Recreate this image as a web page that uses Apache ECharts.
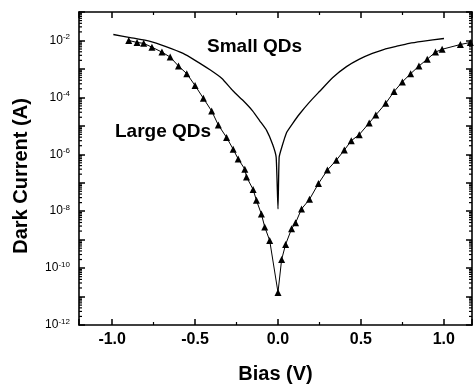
<!DOCTYPE html>
<html>
<head>
<meta charset="utf-8">
<script src="https://cdn.jsdelivr.net/npm/echarts@6/dist/echarts.min.js"></script>
<style>
  html, body { margin: 0; padding: 0; background: #fff; }
  #chart { width: 475px; height: 389px; }
</style>
</head>
<body>
<div id="chart"></div>
<script>
// bias (V) and dark current (A)
const biasSmall = [-0.993, -0.891, -0.771, -0.680, -0.572, -0.500, -0.410, -0.338, -0.272, -0.212, -0.152, -0.110,
  -0.068, -0.032, -0.011, 0,
  0.007, 0.022, 0.052, 0.088, 0.130, 0.190, 0.250, 0.329, 0.413, 0.491, 0.569, 0.641, 0.713, 0.791, 0.869, 1.001];
const currentSmall = [1.62e-2, 1.26e-2, 9.3e-3, 6.2e-3, 3.5e-3, 2.0e-3, 9.3e-4, 4.6e-4, 1.7e-4, 7.9e-5, 3.3e-5, 1.5e-5,
  6.8e-6, 2.2e-6, 7.9e-7, 1.2e-8,
  7.9e-7, 1.7e-6, 5.8e-6, 1.2e-5, 2.6e-5, 6.8e-5, 1.6e-4, 4.9e-4, 1.2e-3, 2.2e-3, 3.5e-3, 4.9e-3, 6.2e-3, 7.9e-3, 9.3e-3, 1.17e-2];

const biasLarge = [-0.90, -0.85, -0.81, -0.76, -0.70, -0.65, -0.60, -0.55, -0.50, -0.45, -0.40, -0.36,
  -0.31, -0.27, -0.24, -0.20, -0.19, -0.15, -0.13, -0.10, -0.08, -0.05, 0,
  0.022, 0.046, 0.082, 0.106, 0.142, 0.19, 0.244, 0.298, 0.352, 0.40, 0.442, 0.49, 0.55, 0.59,
  0.65, 0.70, 0.75, 0.80, 0.85, 0.90, 0.95, 0.99, 1.10, 1.16];
const currentLarge = [1.0e-2, 8.5e-3, 7.9e-3, 5.8e-3, 3.9e-3, 2.6e-3, 1.26e-3, 6.8e-4, 2.6e-4, 9.3e-5, 3.3e-5, 1.07e-5,
  3.9e-6, 1.5e-6, 6.8e-7, 3.0e-7, 1.6e-7, 5.8e-8, 2.4e-8, 7.9e-9, 2.8e-9, 9.3e-10, 1.4e-11,
  2.0e-10, 6.8e-10, 2.4e-9, 3.9e-9, 1.2e-8, 2.6e-8, 9.3e-8, 2.8e-7, 6.2e-7, 1.4e-6, 3.0e-6, 4.9e-6, 1.26e-5, 2.4e-5,
  6.2e-5, 1.6e-4, 3.5e-4, 6.8e-4, 1.26e-3, 2.2e-3, 3.9e-3, 4.9e-3, 7.2e-3, 8.5e-3];

const seriesNames = ["Small QDs", "Large QDs"];
const X_MIN = -1.2, X_MAX = 1.17;
const Y_MIN = 1e-12, Y_MAX = 1e-1;

const FONT = "'Liberation Sans', Arial, sans-serif";

// log minor ticks (2..9 x 10^n)
const minorY = [];
for (let d = -12; d <= -2; d++) {
  for (let k = 2; k <= 9; k++) minorY.push(k * Math.pow(10, d));
}

const chart = echarts.init(document.getElementById("chart"));

const xBase = {
  type: "value",
  min: X_MIN,
  max: X_MAX,
  splitNumber: 5,
  splitLine: { show: false },
  axisLine: { onZero: false, lineStyle: { color: "#000", width: 1.6 } },
  axisTick: { inside: true, length: 6, lineStyle: { color: "#000", width: 1.5 } },
  minorTick: { show: true, splitNumber: 2, length: 3, lineStyle: { color: "#000", width: 1.2 } },
};

const yBase = {
  type: "log",
  logBase: 10,
  min: Y_MIN,
  max: Y_MAX,
  interval: 1,
  splitLine: { show: false },
  axisLine: { onZero: false, lineStyle: { color: "#000", width: 1.6 } },
  axisTick: { inside: true, length: 6, lineStyle: { color: "#000", width: 1.5 } },
};

const option = {
  backgroundColor: "#fff",
  animation: false,
  grid: { left: 79, right: 2, top: 12, bottom: 58 },
  xAxis: [
    {
      ...xBase,
      position: "bottom",
      name: "Bias (V)",
      nameLocation: "middle",
      nameGap: 39,
      nameTextStyle: { fontFamily: FONT, fontWeight: "bold", fontSize: 20, color: "#000" },
      axisLabel: {
        margin: 7,
        fontFamily: FONT,
        fontWeight: "bold",
        fontSize: 16,
        color: "#000",
        formatter: (v) => (Math.abs(v * 2 - Math.round(v * 2)) < 1e-6 ? v.toFixed(1) : ""),
      },
    },
    { ...xBase, position: "top", axisLabel: { show: false } },
  ],
  yAxis: [
    {
      ...yBase,
      position: "left",
      name: "Dark Current (A)",
      nameLocation: "middle",
      nameGap: 48,
      nameTextStyle: { fontFamily: FONT, fontWeight: "bold", fontSize: 20, color: "#000", padding: [0, 15, 0, 0] },
      axisLabel: {
        margin: 9,
        formatter: (v) => {
          const e = Math.round(Math.log10(v));
          return e % 2 === 0 ? "{b|10}{s|" + e + "}" : "";
        },
        rich: {
          b: { fontFamily: FONT, fontSize: 12, color: "#000" },
          s: { fontFamily: FONT, fontSize: 8, color: "#000", padding: [0, 0, 7, 0] },
        },
      },
    },
    { ...yBase, position: "right", axisLabel: { show: false } },
  ],
  graphic: [
    {
      type: "text",
      left: 207,
      top: 37,
      style: { text: "Small QDs", fontFamily: FONT, fontWeight: "bold", fontSize: 19, fill: "#000" },
    },
    {
      type: "text",
      left: 115,
      top: 122,
      style: { text: "Large QDs", fontFamily: FONT, fontWeight: "bold", fontSize: 19, fill: "#000" },
    },
  ],
  series: [
    {
      name: seriesNames[0],
      type: "line",
      data: biasSmall.map((b, i) => [b, currentSmall[i]]),
      showSymbol: false,
      smooth: 0.15,
      lineStyle: { color: "#000", width: 1.3 },
    },
    {
      name: seriesNames[1],
      type: "line",
      data: biasLarge.map((b, i) => [b, currentLarge[i]]),
      symbol: "triangle",
      symbolSize: 7,
      itemStyle: { color: "#000" },
      lineStyle: { color: "#000", width: 1 },
    },
    {
      // minor log ticks on the left and right frame
      type: "custom",
      silent: true,
      clip: false,
      z: 5,
      data: minorY.map((v) => [X_MIN, v]),
      renderItem: (params, api) => {
        const v = api.value(1);
        const pl = api.coord([X_MIN, v]);
        const pr = api.coord([X_MAX, v]);
        const style = { stroke: "#000", lineWidth: 1.2 };
        return {
          type: "group",
          children: [
            { type: "line", shape: { x1: pl[0], y1: pl[1], x2: pl[0] + 3, y2: pl[1] }, style },
            { type: "line", shape: { x1: pr[0], y1: pr[1], x2: pr[0] - 3, y2: pr[1] }, style },
          ],
        };
      },
    },
  ],
};

chart.setOption(option);

window.addEventListener("resize", () => {
  chart.resize();
});
</script>
</body>
</html>
